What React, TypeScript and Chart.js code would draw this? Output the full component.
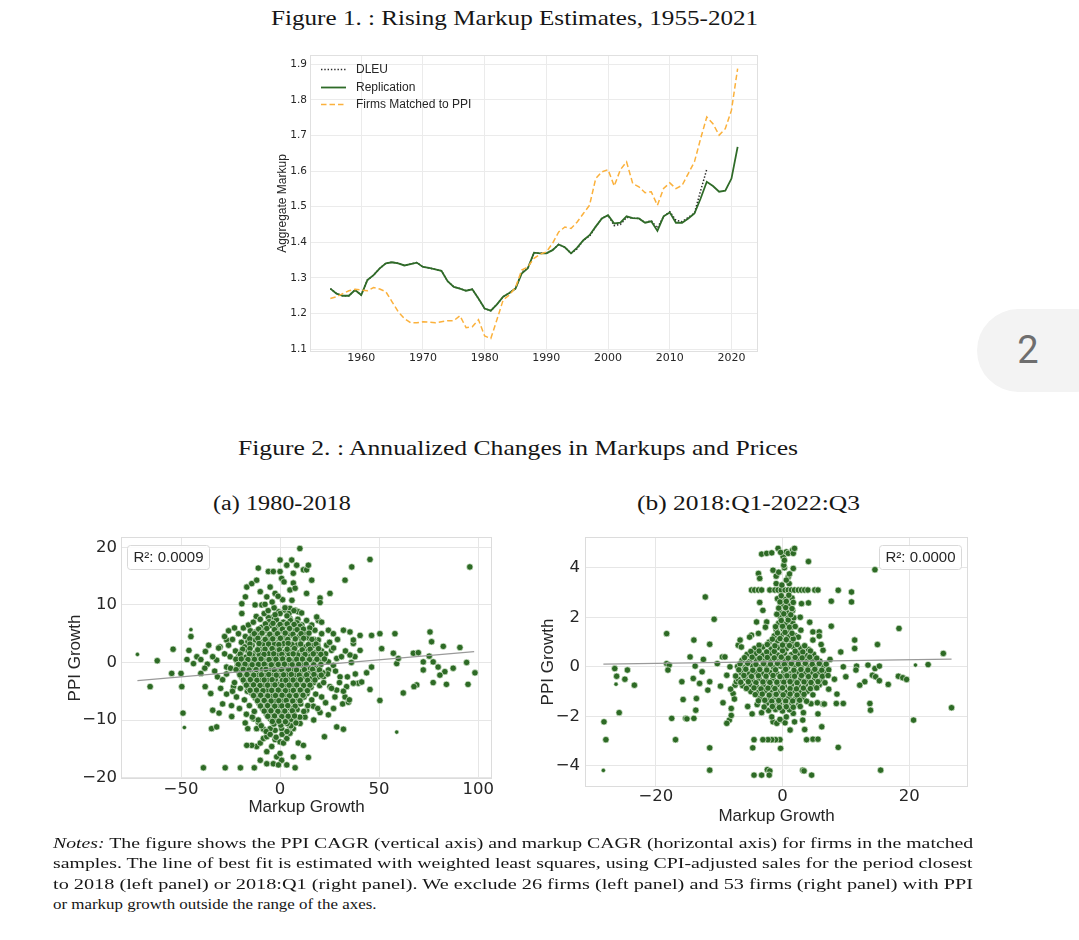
import React, { useEffect, useLayoutEffect, useRef, useState } from "react";
import { Chart, registerables } from "chart.js";
Chart.register(...registerables);

const SANS = "'Liberation Sans', Arial, Helvetica, sans-serif";
const TICKF = "'DejaVu Sans', sans-serif";
const SERIF = "'Liberation Serif', 'Times New Roman', serif";
Chart.defaults.font.family = SANS;

// ---------------- Figure 1 data ----------------
const years = [1955,1956,1957,1958,1959,1960,1961,1962,1963,1964,1965,1966,1967,1968,1969,1970,1971,1972,1973,1974,1975,1976,1977,1978,1979,1980,1981,1982,1983,1984,1985,1986,1987,1988,1989,1990,1991,1992,1993,1994,1995,1996,1997,1998,1999,2000,2001,2002,2003,2004,2005,2006,2007,2008,2009,2010,2011,2012,2013,2014,2015,2016,2017,2018,2019,2020,2021];
const dleu = [1.270,1.256,1.250,1.250,1.266,1.252,1.294,1.308,1.327,1.341,1.344,1.341,1.335,1.339,1.343,1.331,1.328,1.324,1.320,1.291,1.275,1.270,1.264,1.268,1.242,1.214,1.208,1.226,1.247,1.258,1.270,1.316,1.327,1.371,1.369,1.369,1.378,1.394,1.386,1.369,1.382,1.406,1.417,1.444,1.467,1.476,1.447,1.450,1.470,1.468,1.467,1.455,1.461,1.440,1.473,1.486,1.462,1.458,1.470,1.482,1.545,1.605];
const replication = [1.270,1.256,1.250,1.250,1.266,1.252,1.294,1.308,1.327,1.341,1.344,1.341,1.335,1.339,1.343,1.331,1.328,1.324,1.320,1.291,1.275,1.270,1.264,1.268,1.242,1.214,1.208,1.226,1.247,1.258,1.270,1.312,1.327,1.371,1.369,1.369,1.378,1.394,1.386,1.369,1.385,1.406,1.420,1.444,1.467,1.476,1.453,1.455,1.473,1.468,1.467,1.455,1.459,1.432,1.473,1.484,1.455,1.455,1.467,1.481,1.523,1.570,1.558,1.542,1.545,1.579,1.668];
const matchedPPI = [1.242,1.247,1.256,1.264,1.268,1.266,1.264,1.273,1.269,1.261,1.233,1.205,1.186,1.174,1.174,1.177,1.176,1.174,1.177,1.180,1.180,1.194,1.160,1.163,1.183,1.137,1.130,1.183,1.238,1.252,1.273,1.322,1.331,1.355,1.367,1.373,1.397,1.429,1.443,1.439,1.457,1.481,1.504,1.579,1.598,1.604,1.558,1.604,1.626,1.565,1.556,1.539,1.542,1.504,1.551,1.567,1.551,1.560,1.593,1.626,1.691,1.752,1.733,1.701,1.719,1.771,1.888];
const fig1XTicks = [1960, 1970, 1980, 1990, 2000, 2010, 2020];
const fig1YTicks = [1.1, 1.2, 1.3, 1.4, 1.5, 1.6, 1.7, 1.8, 1.9];

// ---------------- Figure 2 (a) data: [markup growth, PPI growth] ----------------
const aOutliers = [[-65.6,-4.2],[-62,0.3],[-54,2.3],[-54.7,-1.9],[-50,-1.9],[-49.6,-4.2],[-49,-8.8],[-46,2.1],[-45,4.5],[-47,0.5],[-42,1],[-43.7,-0.2],[-40,-1.9],[-37.7,1.9],[-37.8,-4.2],[-34,-8.3],[-36.7,-0.3],[-35,-5.4],[-32,0.4],[-31.6,-2.5],[-30.3,2.7],[-29,-7.2],[-30.8,-8.8],[-34.6,-11.5],[-32,-11.2],[-38.7,-18.3],[-27.7,-18.3],[-20,-18.3],[-13,-18.3],[-27,3.9],[-25.2,1],[-27,-0.8],[-23.5,-4.2],[-24.4,-9.4],
[-19.3,8.5],[-19.3,10.2],[-17.5,11.4],[-16.8,13.1],[-14.3,13.7],[-11,16.4],[-11.8,14.3],[-10,12.3],[-12.6,10],[-9.2,10],[-6.7,11.4],[-7.6,10.1],[-5.9,15.8],[-3.4,15.8],[-5,13.1],[-2.5,12],[0,17.8],[0,15.8],[0.8,14.6],[2,14],[3.4,16.9],[5.9,17.8],[6.7,15.5],[5,12.6],[6.7,13.8],[7.6,12.9],[8.4,16.9],[10,19.8],[11.8,16.1],[13.4,16.1],[14.3,16.9],[13.4,12],[16,14.3],[20.2,11.2],[25.2,12],[32.8,14.3],[36.2,16.6],[45.4,17.9],[95.8,16.6],
[1.3,10.9],[2.5,9.1],[5,9.4],[7.6,9.1],[9.2,8.8],[10.9,8.6],[-0.8,8.8],[-3.4,7.9],[-5.9,7.8],[5,7.6],
[24.4,5.6],[26.9,5],[32,5.6],[35.3,5.3],[40.4,4.7],[46.2,4.7],[50.4,5],[58,5],[75.7,5.3],[51.3,2.4],[40.4,2.1],[37,3.3],[37.8,1],[37,3.9],[35.3,1.3],[57.2,1.6],[58.9,-0.2],[59.7,0.7],[67.3,1.6],[69.8,1.7],[76.5,3.6],[82.4,2.8],[90.8,2.6],[72.3,0.1],[75.3,1.1],[77.3,0.1],[79.8,-0.8],[83.2,-1.6],[87.4,-1],[94.2,0],[98.4,-1.8],[80.7,-2.2],[72.3,-1.3],[77.3,-3.5],[84,-3.8],[94.9,-3.8],[69,-3.9],[67.6,-4.2],[62.2,-5.3],[50.4,-6.6],[45.4,-4.7],[43.7,-1.8],[46.2,-0.8],[39.5,-3.6],[37,-3.6],[41.2,-3.4],[33.6,-4.2],[32.8,-6],[31.6,-7.2],[34.5,-6.9],[28.6,-4.8],[25.2,-4.2],[27.7,-6],[28.6,-11.2],[32,-11.6],[22.4,-12.9],[20.2,-8.7],[24.4,-9.1],[30.3,-2.5],[26.9,-0.5],[24.4,0.1],[21.9,0.4],[28.6,0.7],[24.4,-1.3],[21.9,-2.5],[26,2.1],[23.5,3],[19.3,3.9],[21,5],[17.6,5.6],[19.3,7.3],[21,7],[18.5,7.9],[20.2,10.4],[13.4,7.3],[16,6.5],
[-6.7,-17.6],[-3.4,-17.6],[-1.7,-16.4],[0,-15.8],[0.8,-17],[3.4,-17.8],[7.6,-18.3],[-0.8,-17.8],[-10,-17],[-11.8,-14.6],[-14.3,-14.4],[-16.8,-14.4],[-10,-14],[-8.4,-13.2],[-6.7,-15.5],[-4.2,-14.6],[-2.5,-13.4],[0,-13.8],[1.7,-14],[3.4,-13.2],[6.7,-16.4],[9.2,-14],[11.8,-14.4],[14.3,-16.5],[10.1,-10.6],[6.7,-11.5],[5,-11.2],[0.8,-11.5],[-2.5,-11.8],[-5,-11.5],[-8.4,-11.6],[-11.8,-11.5],[-16.3,-11.5],[-17.6,-10.5],[-13.4,-9.8],[-10.9,-10.4],[-6.7,-12.9],[5,-12.3],[7.6,-9.5],[13.4,-8.3],[12.6,-9.5],[16.8,-7.6]];
const aHalo = [[-33,-1.5],[-31,2.5],[-29,-3],[-28,1.5],[-27,-5.5],[-26,3],[-25,-1],[-24.5,-7.5],[-24,4],[-23,-3.5],[-22.5,2],[-22,-6],[-21.5,-0.5],[-21,5],[-20.5,-8],[-20,-4.5],[-19.5,3.5],[-19,-2.5],[-18.5,6],[-18,-6.5],[-17.5,4.5],[-17,-9],[-16.5,-5],[-16,6.5],[-15.5,-7.5],[-15,5.5],[-14,-9.5],[-13.5,7],[-13,-8.5],[-12,8],[-11,-10],[-10,7.5],[-9.5,-11],[-8,8.5],[-7,-12],[-6,9],[-5,-12.5],[-3,9.5],[-2,-13],[0,8.5],[1,-12.5],[2.5,9.5],[3.5,-12],[4.5,8.5],[5.5,-11],[7,9],[8,-10.5],[9,7.5],[10,-9.5],[11,6.5],[12,-8.5],[13,5],[14,-7.5],[15,6],[16,-6.5],[17,4],[18,-5.5],[19,3],[20,-4],[21,2],[22,-3.5],[23,1.5],[24,-2],[25,3.5],[26,-4.5],[27,2.5],[28,-1.5],[29,4],[30,-3.5],[31,1],[32,-5],[33,2],[34,-2.5],[35,-6.5],[36,0],[38,-2],[23,-7],[19,-8],[17,-10],[21,-6],[27,-8],[-24,-5],[-27,-2],[-30,-4.5],[-34,1],[-36,3],[-38,-1],[-40,0.5],[-26,5.5],[-23,6],[-28,4.5]];
const aCore = [[-5.5,7.1],[-1.8,7.4],[1.7,7],[5.2,7.3],[8.5,6.9],
[-9.3,6.1],[-4.6,6.4],[-0.8,6.2],[2.8,6.5],[6.4,6.1],[10.2,6.3],
[-12.2,5.3],[-7.6,5.6],[-3.2,5.2],[0.4,5.5],[4.1,5.3],[7.8,5.6],[12.3,5.2],
[-14.1,4.5],[-10.3,4.7],[-6.2,4.4],[-2.1,4.6],[1.6,4.4],[5.4,4.7],[9.6,4.5],[13.8,4.3],
[-16.2,3.6],[-12.4,3.9],[-8.4,3.6],[-4.7,3.8],[-0.9,3.5],[3.1,3.8],[7.2,3.6],[11.1,3.9],[15.3,3.5],
[-17.8,2.7],[-14.1,3],[-10.4,2.7],[-6.7,2.9],[-2.9,2.6],[0.6,2.9],[4.6,2.7],[8.3,3],[12.6,2.7],[16.4,2.9],
[-19.6,1.8],[-16.2,2],[-12.3,1.7],[-8.7,2],[-5.1,1.8],[-1.4,2.1],[2.2,1.8],[6.1,2],[9.8,1.7],[14.2,2],[18.1,1.8],
[-20.8,1.1],[-17.3,0.9],[-13.9,1.2],[-10.6,0.9],[-7.2,1.1],[-3.4,0.8],[0.2,1.1],[3.7,0.9],[7.4,1.2],[11.6,0.9],[15.4,1.1],[19.3,0.9],
[-21.7,0.2],[-18.4,-0.1],[-14.8,0.2],[-11.6,0],[-8.1,0.3],[-4.4,0],[-1.1,0.2],[2.6,-0.1],[6.2,0.2],[9.4,0],[13.1,0.3],[16.8,0],[20.7,0.1],
[-19.8,-0.8],[-16.4,-0.6],[-12.9,-0.9],[-9.6,-0.7],[-5.8,-1],[-2.6,-0.7],[1.1,-0.9],[4.4,-0.6],[8.2,-0.9],[11.7,-0.7],[15.2,-1],[18.9,-0.8],
[-20.6,-1.7],[-17.3,-1.5],[-13.8,-1.8],[-10.4,-1.6],[-7.1,-1.9],[-3.6,-1.6],[0.1,-1.8],[3.4,-1.5],[7.1,-1.8],[10.6,-1.6],[14.1,-1.9],[17.8,-1.6],[21.6,-1.8],
[-19.3,-2.6],[-15.8,-2.4],[-12.6,-2.7],[-9.1,-2.5],[-5.4,-2.8],[-2.1,-2.5],[1.6,-2.7],[5.1,-2.4],[8.6,-2.7],[12.1,-2.5],[15.7,-2.8],[19.2,-2.5],
[-17.9,-3.4],[-14.4,-3.7],[-11.1,-3.4],[-7.6,-3.6],[-4.1,-3.3],[-0.6,-3.6],[2.9,-3.4],[6.6,-3.7],[10.1,-3.4],[13.4,-3.6],[16.9,-3.5],
[-16.1,-4.4],[-12.6,-4.2],[-9.2,-4.5],[-5.6,-4.3],[-1.9,-4.6],[1.4,-4.3],[5.1,-4.5],[8.4,-4.2],[12.1,-4.6],[15.6,-4.3],
[-14.3,-5.3],[-10.9,-5.1],[-7.4,-5.4],[-4.1,-5.2],[-0.4,-5.5],[3.1,-5.2],[6.4,-5.4],[9.9,-5.1],[13.6,-5.4],
[-12.4,-6.2],[-8.9,-6],[-5.6,-6.3],[-2.2,-6.1],[1.6,-6.4],[4.9,-6.1],[8.6,-6.3],[12.1,-6],
[-10.6,-7.1],[-7.1,-6.9],[-3.4,-7.2],[0.1,-7],[3.6,-7.3],[6.9,-7],[10.4,-7.2],
[-8.8,-8],[-5.4,-8.2],[-2.1,-7.9],[1.4,-8.1],[4.9,-7.9],[8.6,-8.2],
[-6.9,-8.9],[-3.6,-9.1],[0.1,-8.8],[3.4,-9],[6.9,-8.9],
[-4.9,-9.8],[-1.6,-10],[2.1,-9.7],[5.4,-9.9],
[-3.1,-10.7],[0.4,-10.9],[3.6,-10.6],
[-8.5,3.2],[-3,3.2],[1.8,3.3],[6,3.1],[-10.5,1.4],[-5.8,1.5],[-1.6,1.4],[4.5,1.5],[8.9,1.3],[-12.8,-0.4],[-6.7,-0.3],[-2.9,-0.3],[0.7,-0.4],[4.3,-0.3],[10.8,-0.2],[-9,-1.2],[-4.8,-1.1],[-1,-1.3],[2.4,-1.2],[6,-1.2],[-11.2,-2.1],[-7.4,-2.2],[-3.6,-2.1],[0,-2.3],[3.7,-2.1],[7.5,-2.2],[-9.6,-3],[-5.9,-3.1],[-2.4,-3],[1.2,-3.1],[4.8,-3],[8.4,-3.1],[-8.1,-3.9],[-4.3,-4],[-0.8,-3.9],[2.9,-4],[6.6,-3.9],[-6.2,-4.8],[-2.7,-4.9],[0.9,-4.8],[4.5,-4.9],[-4,-5.8],[-0.6,-5.7],[2.9,-5.8],[-2.2,-6.7],[1.4,-6.6],[-0.4,-7.5],[-6,0.5],[3.2,0.4],[-0.3,4.1],[0.8,5.9],[-2.5,8.3],[3.5,8.1],[-4,10.5],[6,10.8],[-1,11.5]];
const aCore2 = [[-7.4,6.7],[-3.6,6.8],[0,6.6],[3.6,6.7],[7.1,6.6],
[-10.8,5.8],[-6.7,5.9],[-2.8,5.7],[1.2,5.8],[4.8,5.9],[8.6,5.7],[11.8,5.8],
[-13,5],[-9.1,5.1],[-5.2,4.9],[-1.3,5],[2.6,5.1],[6.5,4.9],[10.6,5],[14.6,5.1],
[-15.3,4.1],[-11.2,4.2],[-7.5,4],[-3.7,4.1],[0.2,4.2],[3.9,4],[7.7,4.1],[11.9,4.2],[16.1,4],
[-15.2,3.2],[-10.6,3.3],[-5.8,3.2],[-0.6,3.1],[4.1,3.3],[10.4,3.2],[14.3,3.1],[18.2,3.2],
[-18.9,2.3],[-15.2,2.4],[-11.3,2.2],[-7.6,2.3],[-4,2.4],[-0.3,2.2],[3.6,2.3],[7.3,2.4],[11.2,2.2],[15.2,2.3],[19.4,2.4],
[-20.1,1.45],[-15.4,1.5],[-8.1,1.4],[-3.2,1.5],[0.9,1.4],[6.6,1.5],[12.6,1.4],[16.8,1.5],[20.6,1.4],
[-22.3,0.55],[-19.6,0.6],[-16.2,0.5],[-12.9,0.55],[-9.6,0.6],[-5.5,0.5],[-2.1,0.55],[1.3,0.6],[4.6,0.5],[8.4,0.55],[11.3,0.6],[14.9,0.5],[18.6,0.55],[22.4,0.6],
[-21.1,-0.35],[-17.7,-0.3],[-14.1,-0.4],[-10.9,-0.35],[-8,-0.3],[-4.4,-0.4],[-0.9,-0.35],[2.2,-0.3],[6.1,-0.4],[9.4,-0.35],[13.2,-0.3],[17,-0.4],[20.6,-0.35],
[-22.2,-1.25],[-18.6,-1.2],[-15.6,-1.3],[-12.1,-1.25],[-7.1,-1.2],[-2.9,-1.3],[0.8,-1.25],[4.3,-1.2],[8.3,-1.3],[12.3,-1.25],[16.4,-1.2],[19.9,-1.3],
[-20.3,-2.15],[-16.7,-2.1],[-13.3,-2.2],[-9.4,-2.15],[-5.7,-2.1],[-1.9,-2.2],[1.8,-2.15],[5.7,-2.1],[9.7,-2.2],[13.4,-2.15],[17.1,-2.1],[20.8,-2.2],
[-18.6,-3.05],[-15,-3],[-11.7,-3.1],[-8,-3.05],[-4,-3],[2.9,-3.1],[6.6,-3.05],[10.3,-3],[13.9,-3.1],[17.6,-3.05],
[-17,-3.95],[-13.4,-3.9],[-10.1,-4],[-6.3,-3.95],[-2.6,-3.9],[0.9,-4],[4.6,-3.95],[8.4,-3.9],[11.9,-4],[15.1,-3.95],
[-15.1,-4.85],[-11.9,-4.8],[-8.6,-4.9],[-4.2,-4.85],[-0.9,-4.8],[2.7,-4.9],[6.7,-4.85],[10.2,-4.8],[13.8,-4.9],
[-13.4,-5.75],[-9.8,-5.7],[-6.2,-5.8],[-2.3,-5.75],[1,-5.7],[4.7,-5.8],[8.1,-5.75],[11.6,-5.7],
[-11.4,-6.65],[-8,-6.6],[-4.5,-6.7],[-0.6,-6.65],[3.1,-6.6],[6.4,-6.7],[10.1,-6.65],
[-9.9,-7.55],[-6.3,-7.5],[-2.7,-7.6],[0.9,-7.55],[3.9,-7.5],[7.6,-7.6],
[-8,-8.45],[-4.6,-8.4],[-1.1,-8.5],[2.4,-8.45],[6.2,-8.4],
[-6.2,-9.35],[-2.8,-9.3],[0.9,-9.4],[4.1,-9.35],[7.3,-9.3],
[-3.9,-10.25],[-0.6,-10.2],[2.7,-10.3]];
const aSmall = [[-72,1.4],[-48.3,-11.3],[58.9,-12.1],[-45,5.7]];
const aFit = [[-72,-3.15],[98,1.88]];
const aTicksX = [-50, 0, 50, 100];
const aTicksY = [-20, -10, 0, 10, 20];
const aR2 = "R\u00b2: 0.0009";

// ---------------- Figure 2 (b) data ----------------
const bOutliers = [[-28.2,-2.22],[-27.9,-2.94],[-26.5,-0.07],[-26.2,-0.38],[-24.9,-0.5],[-24.5,-0.13],[-25.8,-1.85],[-23.4,-0.74],[-18.3,1.34],[-18.3,0.13],[-17.9,0.07],[-18.1,-0.13],[-17.5,-2.08],[-16.9,-2.94],[-15.9,-0.6],[-15.7,-1.32],[-15.3,-2.08],[-15.1,-2.1],[-14,-2.08],[-14.1,-0.47],[-14,1.08],[-14.6,0.4],[-13.8,0.03],[-13.6,-1.28],[-13.7,-1.75],[-13.1,-0.67],[-12.5,0.3],[-12.2,2.82],[-12.7,-0.2],[-11.5,0.91],[-11.5,-0.6],[-11.8,-0.94],[-11.5,-3.27],[-11.5,-4.17],[-10.8,1.92],[-10.3,0.13],[-9.8,-0.78],[-9.5,0.4],[-9.4,-1.45],[-8.8,-0.34],[-8.4,-2.15],[-8.8,-2.28],[-8.3,0],[-8.1,-1.96],[-8.1,-1.68],[-7.8,-1.08],[-7.5,-0.74],[-7.3,-0.6],[-7,0.87],[-6.7,1.08],
[-4.9,1.28],[-4.1,1.81],[-3.8,3.77],[-3.6,3.57],[-3.3,4.55],[-2.5,4.58],[-1.7,4.6],[-3.6,2.6],[-3.1,2.28],[-2.5,1.81],[-1.5,3.9],[-1,3.66],[-0.7,4.78],[0.1,4.44],[0.6,4.64],[0.9,4.58],[1.6,4.71],[1.7,4.58],[1.9,4.78],[0.3,4],[1.7,3.97],[0.9,3.63],[-1,3.36],[1.05,3.36],[4.1,4.25],
[-4.9,3.1],[-4.4,3.1],[-3.8,3.1],[-3.3,3.1],[-2,3.1],[-1.2,3.1],[-0.7,3.1],[-0.2,3.1],[0.4,3.1],[0.9,3.1],[1.4,3.1],[1.9,3.1],[2.5,3.1],[3,3.1],[3.5,3.1],[4,3.1],[5.1,3.1],[5.6,3.1],
[8.8,3.09],[10.9,3.02],[10.9,2.62],[7.7,2.65],[4.1,2.58],[3,2.55],[11.4,1.08],[7.7,1.64],[4.8,1.41],[5.8,1.41],[5.8,1.24],[4.8,1.08],[2.9,1.48],[6.4,0.67],[14.6,3.92],[18.4,1.55],[15,0.9],[11.4,0.74],[25.4,0.54],[23,0.09],[13.5,0.07],[14.6,-0.07],[15.3,0.03],[14.2,-0.34],[14.7,-0.4],[15.3,-0.56],[16.7,-0.71],[18.3,-0.38],[19,-0.44],[19.6,-0.51],[13,-0.6],[12.2,-0.74],[10,-0.4],[9.6,0],[11.7,0.03],[11.6,-0.13],[13.8,-1.48],[13.9,-1.75],[9.6,-1.48],[8.5,-1.48],[8.8,-3.25],[26.7,-1.65],[20.7,-2.15],[15.5,-4.17],[6.4,-1.5],[6.2,-2.42],[4.8,-2.92],[5.6,-2.92],[3.8,-2.94],[3.5,-2.53],[3.2,-2.15],[3.2,-4.17],[3.4,-4.2],[4.6,-4.37],[1.2,-2.55],[-0.3,-3.29],[-0.4,-2.94],[-1.1,-2.94],[-1.7,-2.94],[-2.3,-2.94],[-3.1,-2.94],[-4.5,-2.94],[-4.7,-3.27],[-2.4,-4.15],[-2,-4.2],[-2.1,-4.37],[-3.3,-4.37],[-4.5,-4.37],[-0.2,-2.15],[0.4,-2.26],[-1.5,-2.22],[-0.9,-2.28],[-0.4,-2.12],[-1.7,-2.02],[0.6,-2.02],[1.7,-1.88],[1.9,-2.22]];
const bCore = [[-2.1,1],[-0.8,1.05],[0.3,0.95],[1.5,1.02],
[-4.4,0.74],[-3.1,0.8],[-1.8,0.72],[-0.6,0.78],[0.6,0.73],[1.7,0.8],[2.9,0.75],[4.1,0.7],
[-5.6,0.5],[-4.3,0.53],[-3.1,0.47],[-2,0.52],[-0.8,0.48],[0.3,0.54],[1.4,0.49],[2.6,0.52],[3.7,0.46],[4.9,0.51],
[-6.4,0.26],[-5.2,0.22],[-4.1,0.28],[-2.9,0.23],[-1.8,0.27],[-0.7,0.22],[0.4,0.28],[1.5,0.24],[2.6,0.27],[3.7,0.22],[4.8,0.26],[5.9,0.23],
[-7.1,0.02],[-5.9,-0.03],[-4.7,0.03],[-3.6,-0.02],[-2.5,0.02],[-1.4,-0.03],[-0.3,0.03],[0.8,-0.02],[1.9,0.02],[3,-0.03],[4.1,0.02],[5.2,-0.02],[6.4,0.03],
[-6.5,-0.24],[-5.3,-0.28],[-4.2,-0.22],[-3.1,-0.27],[-2,-0.23],[-0.9,-0.27],[0.2,-0.22],[1.3,-0.28],[2.4,-0.23],[3.5,-0.27],[4.6,-0.22],[5.7,-0.26],[6.8,-0.24],
[-7,-0.5],[-5.9,-0.46],[-4.8,-0.52],[-3.7,-0.47],[-2.6,-0.53],[-1.5,-0.48],[-0.4,-0.52],[0.7,-0.47],[1.8,-0.53],[2.9,-0.48],[4,-0.51],[5.1,-0.47],[6.2,-0.52],
[-6.3,-0.76],[-5.2,-0.72],[-4.1,-0.78],[-3,-0.73],[-1.9,-0.77],[-0.8,-0.72],[0.3,-0.78],[1.4,-0.73],[2.5,-0.77],[3.6,-0.72],[4.7,-0.76],[5.8,-0.73],
[-5,-1],[-3.8,-1.03],[-2.7,-0.97],[-1.6,-1.02],[-0.5,-0.98],[0.6,-1.03],[1.7,-0.98],[2.8,-1.02],[3.9,-0.99],
[-3.5,-1.24],[-2.3,-1.28],[-1.2,-1.22],[-0.1,-1.27],[1,-1.23],[2.1,-1.27],[3.2,-1.24],
[-4,-1.52],[-2.5,-1.47],[-1.5,-1.53],[-0.5,-1.48],[0.5,-1.52],[1.5,-1.47],[2.6,-1.51],[4.5,-1.49],[-5.5,-1.6],[5.5,-1.45],[6.6,-1.5],
[-2.2,-1.76],[-1.1,-1.72],[0,-1.78],[1.1,-1.73],
[-1.3,0.62],[0,0.65],[1,0.38],[-0.2,0.12],[0.9,0.12],[-1.1,-0.12],[0,-0.38],[1.1,-0.38],[-0.9,-0.62],[0.2,-0.62],[1.2,-0.88],[-0.1,-0.88],[-1.2,-1.12],[0.5,-1.38],
[-1.3,1.25],[-0.2,1.27],[0.9,1.22],[2,1.26],[-1,1.5],[0.1,1.53],[1.2,1.48],[-0.6,1.76],[0.5,1.73],[1.6,1.78],[-0.3,2],[0.8,2.03],[1.8,1.98],[-0.5,2.25],[0.6,2.22],[1.6,2.27],[-0.2,2.5],[0.9,2.47],[-0.8,2.75],[0.4,2.72],[1.5,2.78],[-0.1,3.3],[0.6,3.5],[-0.6,3.82],[0.2,4.1],[-0.3,4.62],[0.3,4.3],[1.1,3.75],
[7.5,0.3],[8.2,-0.5],[7.3,-0.9],[9.2,0.6],[-8.2,-0.9],[-9.1,0.4],[-7.6,-1.3],[8.6,-1.1],[6.1,0.9],[-6.5,0.8],[-5.2,1.2],[5.6,-1.9],[-4.8,-1.9],[3.3,-1.85],[-3.3,-1.85],[2.5,1.2],[-3.8,1.35],[-2.7,1.6],[2.8,2],[4.3,1.8]];
const bCore2 = [[-3.7,0.87],[-2.4,0.9],[-1.2,0.85],[0,0.88],[1.1,0.86],[2.3,0.9],[3.5,0.85],
[-5,0.62],[-3.7,0.64],[-2.5,0.6],[2,0.63],[3.2,0.6],[4.4,0.64],
[-6,0.37],[-4.8,0.39],[-3.6,0.35],[-2.4,0.38],[-1.3,0.36],[-0.2,0.39],[0.9,0.35],[2,0.38],[3.1,0.36],[4.3,0.39],[5.4,0.35],
[-6.7,0.12],[-5.5,0.14],[-4.2,0.1],[-3,0.13],[-1.9,0.11],[-0.8,0.14],[0.3,0.1],[1.4,0.13],[2.5,0.11],[3.6,0.14],[4.7,0.1],[5.8,0.13],[6.9,0.11],
[-6.9,-0.12],[-5.8,-0.1],[-4.7,-0.14],[-3.6,-0.11],[-2.5,-0.13],[0.5,-0.1],[1.8,-0.14],[2.9,-0.11],[4,-0.13],[5.1,-0.1],[6.2,-0.14],[7.3,-0.12],
[-7.4,-0.37],[-6.1,-0.35],[-4.9,-0.39],[-3.8,-0.36],[-2.6,-0.38],[-1.5,-0.35],[-0.4,-0.39],[0.7,-0.36],[1.9,-0.38],[3,-0.35],[4.1,-0.39],[5.2,-0.36],[6.3,-0.38],[7.2,-0.35],
[-6.6,-0.62],[-5.4,-0.6],[-4.2,-0.64],[-3.1,-0.61],[-2,-0.63],[1.2,-0.6],[2.3,-0.64],[3.4,-0.61],[4.5,-0.63],[5.6,-0.6],[6.7,-0.64],
[-5.7,-0.87],[-4.5,-0.85],[-3.4,-0.89],[-2.3,-0.86],[-1.2,-0.88],[0,-0.85],[2.2,-0.89],[3.3,-0.86],[4.4,-0.88],[5.4,-0.85],
[-4.3,-1.12],[-3.2,-1.1],[-2.1,-1.14],[-1,-1.11],[0.1,-1.13],[1.2,-1.1],[2.3,-1.14],[3.4,-1.11],[4.8,-1.13],
[-3.8,-1.37],[-2.8,-1.35],[-1.7,-1.39],[-0.6,-1.36],[1.6,-1.38],[2.7,-1.35],[3.8,-1.39],
[-2.9,-1.62],[-1.6,-1.6],[-0.5,-1.64],[0.6,-1.61],[1.7,-1.63],[2.8,-1.6],
[-1.6,1.12],[-0.4,1.14],[0.6,1.1],[1.7,1.13],[-0.8,1.37],[0.4,1.39],[1.5,1.35],[-1.1,1.62],[0,1.64],[1.1,1.6],[2,1.63],[-0.2,1.87],[0.9,1.89],[-0.9,2.12],[0.2,2.14],[1.3,2.1],[-0.6,2.37],[0.5,2.39],[1.5,2.35],[-0.4,2.62],[0.6,2.64],[1.7,2.6],[-0.2,2.87],[1,2.89]];
const bSmall = [[21,0.07],[-26.3,-0.7],[-28.3,-4.18]];
const bFit = [[-28.3,0.11],[26.7,0.31]];
const bTicksX = [-20, 0, 20];
const bTicksY = [-4, -2, 0, 2, 4];
const bR2 = "R\u00b2: 0.0000";

// ---------------- helpers ----------------
const toXY = (pairs: number[][]) => pairs.map(([x, y]) => ({ x, y }));
const minusFmt = (v: number) => (v < 0 ? "\u2212" + Math.abs(v) : String(v));

const framePlugin = {
  id: "frame",
  beforeDatasetsDraw(chart: any, _a: any, opts: any) {
    const { ctx, chartArea } = chart;
    const l = Math.round(chartArea.left) + 0.5, t = Math.round(chartArea.top) + 0.5;
    const r = Math.round(chartArea.right) - 0.5, b = Math.round(chartArea.bottom) - 0.5;
    ctx.save();
    ctx.strokeStyle = (opts && opts.color) || "#dcdcdc";
    ctx.lineWidth = 1;
    ctx.strokeRect(l, t, r - l, b - t);
    ctx.restore();
  },
};

const insideLegend = {
  id: "insideLegend",
  afterDatasetsDraw(chart: any) {
    const { ctx, chartArea } = chart;
    ctx.save();
    chart.data.datasets.forEach((ds: any, i: number) => {
      const y = Math.round(chartArea.top + 14 + i * 17.6) + 0.5;
      const x0 = chartArea.left + 11;
      ctx.beginPath();
      ctx.setLineDash(ds.borderDash || []);
      ctx.strokeStyle = ds.borderColor;
      ctx.lineWidth = ds.borderWidth;
      ctx.moveTo(x0, y);
      ctx.lineTo(x0 + 25, y);
      ctx.stroke();
      ctx.setLineDash([]);
      ctx.fillStyle = "#262626";
      ctx.font = `12px ${SANS}`;
      ctx.textBaseline = "middle";
      ctx.fillText(ds.label, x0 + 35, y);
    });
    ctx.restore();
  },
};

const r2Plugin = {
  id: "r2box",
  afterDatasetsDraw(chart: any, _a: any, opts: any) {
    if (!opts || !opts.text) return;
    const { ctx, chartArea } = chart;
    ctx.save();
    ctx.font = `15px ${SANS}`;
    const tw = ctx.measureText(opts.text).width;
    const w = Math.round(tw + 12), h = 24;
    const x = Math.round(opts.side === "left" ? chartArea.left + 6 : chartArea.right - 7 - w) + 0.5;
    const y = Math.round(chartArea.top + 8) + 0.5;
    ctx.beginPath();
    if ((ctx as any).roundRect) (ctx as any).roundRect(x, y, w, h, 3);
    else ctx.rect(x, y, w, h);
    ctx.fillStyle = "rgba(255,255,255,0.85)";
    ctx.fill();
    ctx.strokeStyle = "#d9d9d9";
    ctx.lineWidth = 1;
    ctx.stroke();
    ctx.fillStyle = "#262626";
    ctx.textBaseline = "middle";
    ctx.fillText(opts.text, x + 6, y + h / 2 + 0.5);
    ctx.restore();
  },
};

function ChartBox({ left, top, width, height, make }: any) {
  const ref = useRef<HTMLCanvasElement>(null);
  useEffect(() => {
    const chart = new Chart(ref.current as HTMLCanvasElement, make());
    return () => chart.destroy();
  }, []);
  return (
    <canvas
      ref={ref}
      width={width}
      height={height}
      style={{ position: "absolute", left, top, width, height }}
    />
  );
}

function FitText({ left, width, baseline, size, children, color = "#161616" }: any) {
  const ref = useRef<HTMLSpanElement>(null);
  const [s, setS] = useState(1);
  useLayoutEffect(() => {
    const measure = () => {
      const el = ref.current;
      if (!el) return;
      const w = el.offsetWidth;
      if (w > 0) setS(width / w);
    };
    measure();
    const f: any = (document as any).fonts;
    if (f && f.ready) f.ready.then(measure);
  }, [width]);
  return (
    <div
      style={{
        position: "absolute",
        left,
        top: baseline - 0.8375 * size,
        whiteSpace: "nowrap",
        fontFamily: SERIF,
        fontSize: size,
        lineHeight: `${size}px`,
        color,
      }}
    >
      <span
        ref={ref}
        style={{ display: "inline-block", transform: `scaleX(${s})`, transformOrigin: "left top" }}
      >
        {children}
      </span>
    </div>
  );
}

// ---------------- chart configs ----------------
const makeFig1 = () => ({
  type: "line",
  data: {
    datasets: [
      {
        label: "DLEU",
        data: dleu.map((y, i) => ({ x: years[i], y })),
        borderColor: "#2a2a2a",
        borderWidth: 1.5,
        borderDash: [1.4, 1.9],
        pointRadius: 0,
        order: 3,
      },
      {
        label: "Replication",
        data: replication.map((y, i) => ({ x: years[i], y })),
        borderColor: "#2f6b28",
        borderWidth: 1.8,
        pointRadius: 0,
        order: 2,
      },
      {
        label: "Firms Matched to PPI",
        data: matchedPPI.map((y, i) => ({ x: years[i], y })),
        borderColor: "#fbb13c",
        borderWidth: 1.5,
        borderDash: [5.5, 3],
        pointRadius: 0,
        order: 1,
      },
    ],
  },
  options: {
    animation: false,
    responsive: false,
    devicePixelRatio: 1,
    layout: { padding: { top: 12, right: 12, left: 0, bottom: 0 } },
    plugins: { legend: { display: false }, tooltip: { enabled: false }, frame: { color: "#e0e0e0" } },
    scales: {
      x: {
        type: "linear",
        min: 1951.7,
        max: 2024.3,
        afterBuildTicks: (s: any) => { s.ticks = fig1XTicks.map((v) => ({ value: v })); },
        afterFit: (s: any) => { s.height = 23; },
        grid: { color: "#ebebeb", drawTicks: false },
        border: { display: false },
        ticks: { padding: 0, font: { family: TICKF, size: 11 }, color: "#262626", callback: (v: any) => String(v), maxRotation: 0 },
      },
      y: {
        type: "linear",
        min: 1.092,
        max: 1.926,
        afterBuildTicks: (s: any) => { s.ticks = fig1YTicks.map((v) => ({ value: v })); },
        afterFit: (s: any) => { s.width = 40; },
        grid: { color: "#ebebeb", drawTicks: false },
        border: { display: false },
        ticks: { padding: 3, font: { family: TICKF, size: 10.5 }, color: "#262626", callback: (v: any) => Number(v).toFixed(1) },
        title: { display: true, text: "Aggregate Markup", font: { family: SANS, size: 12 }, color: "#262626", padding: { top: 5, bottom: 0 } },
      },
    },
  },
  plugins: [framePlugin, insideLegend],
});

const scatterConfig = (p: any) => ({
  type: "scatter",
  data: {
    datasets: [
      {
        label: "fit",
        data: toXY(p.fit),
        showLine: true,
        borderColor: "#9a9a9a",
        borderWidth: 1.4,
        pointRadius: 0,
        order: 0,
      },
      {
        label: "firms",
        data: toXY(p.points),
        backgroundColor: "#2d6a25",
        borderColor: "rgba(225,240,220,0.85)",
        borderWidth: 0.8,
        pointRadius: 3.2,
        order: 1,
      },
      {
        label: "firms-small",
        data: toXY(p.small),
        backgroundColor: "#2d6a25",
        borderColor: "rgba(225,240,220,0.85)",
        borderWidth: 0.6,
        pointRadius: 2.1,
        order: 1,
      },
    ],
  },
  options: {
    animation: false,
    responsive: false,
    devicePixelRatio: 1,
    layout: { padding: { top: 16, right: p.padRight, left: 0, bottom: 0 } },
    plugins: {
      legend: { display: false },
      tooltip: { enabled: false },
      frame: { color: "#dcdcdc" },
      r2box: { text: p.r2, side: p.r2Side },
    },
    scales: {
      x: {
        type: "linear",
        min: p.xMin,
        max: p.xMax,
        afterBuildTicks: (s: any) => { s.ticks = p.ticksX.map((v: number) => ({ value: v })); },
        afterFit: (s: any) => { s.height = p.xAxisH; },
        grid: { color: "#e6e6e6", drawTicks: false },
        border: { display: false },
        ticks: { padding: p.xTickPad, font: { family: TICKF, size: 16.5 }, color: "#262626", callback: (v: any) => minusFmt(Number(v)), maxRotation: 0 },
        title: { display: true, text: "Markup Growth", font: { family: SANS, size: 17 }, color: "#262626", padding: { top: 0, bottom: p.xTitlePad } },
      },
      y: {
        type: "linear",
        min: p.yMin,
        max: p.yMax,
        afterBuildTicks: (s: any) => { s.ticks = p.ticksY.map((v: number) => ({ value: v })); },
        afterFit: (s: any) => { s.width = p.yAxisW; },
        grid: { color: "#e6e6e6", drawTicks: false },
        border: { display: false },
        ticks: { padding: p.yTickPad, font: { family: TICKF, size: 16.5 }, color: "#262626", callback: (v: any) => minusFmt(Number(v)) },
        title: { display: true, text: "PPI Growth", font: { family: SANS, size: 17 }, color: "#262626", padding: { top: p.yTitlePad, bottom: 0 } },
      },
    },
  },
  plugins: [framePlugin, r2Plugin],
});

const makeFig2a = () =>
  scatterConfig({
    fit: aFit,
    points: [...aOutliers, ...aHalo, ...aCore, ...aCore2],
    small: aSmall,
    r2: aR2,
    r2Side: "left",
    xMin: -80.3,
    xMax: 107,
    yMin: -20.25,
    yMax: 21.8,
    ticksX: aTicksX,
    ticksY: aTicksY,
    padRight: 13,
    xAxisH: 48,
    yAxisW: 61,
    xTickPad: 1,
    yTickPad: 4,
    xTitlePad: 9.8,
    yTitlePad: 4.8,
  });

const makeFig2b = () =>
  scatterConfig({
    fit: bFit,
    points: [...bOutliers, ...bCore, ...bCore2],
    small: bSmall,
    r2: bR2,
    r2Side: "right",
    xMin: -31.2,
    xMax: 29.3,
    yMin: -4.85,
    yMax: 5.24,
    ticksX: bTicksX,
    ticksY: bTicksY,
    padRight: 12,
    xAxisH: 50,
    yAxisW: 55,
    xTickPad: 0,
    yTickPad: 5,
    xTitlePad: 10.3,
    yTitlePad: 7.8,
  });

export default function App() {
  return (
    <div style={{ position: "absolute", left: 0, top: 0, width: 1079, height: 940, background: "#ffffff", overflow: "hidden" }}>
      <FitText left={271} width={487} baseline={26} size={21}>
        Figure 1. : Rising Markup Estimates, 1955-2021
      </FitText>
      <ChartBox left={270} top={43} width={500} height={332} make={makeFig1} />

      <div
        style={{
          position: "absolute",
          left: 977,
          top: 309,
          width: 140,
          height: 83,
          borderRadius: 42,
          background: "#f3f3f3",
        }}
      />
      <div
        style={{
          position: "absolute",
          left: 977,
          top: 309,
          width: 102,
          height: 83,
          lineHeight: "83px",
          textAlign: "center",
          fontFamily: "Roboto, 'Noto Sans', sans-serif",
          fontSize: 38,
          color: "#6e6e6e",
        }}
      >
        2
      </div>

      <FitText left={238} width={560} baseline={456} size={21}>
        Figure 2. : Annualized Changes in Markups and Prices
      </FitText>
      <FitText left={213} width={138} baseline={510} size={20}>
        (a) 1980-2018
      </FitText>
      <FitText left={637} width={223} baseline={510} size={20}>
        (b) 2018:Q1-2022:Q3
      </FitText>

      <ChartBox left={60} top={521} width={445} height={306} make={makeFig2a} />
      <ChartBox left={530} top={521} width={450} height={316} make={makeFig2b} />

      <FitText left={53} width={920} baseline={847.5} size={15.5}>
        <i>Notes:</i> The figure shows the PPI CAGR (vertical axis) and markup CAGR (horizontal axis) for firms in the matched
      </FitText>
      <FitText left={53} width={920} baseline={868} size={15.5}>
        samples. The line of best fit is estimated with weighted least squares, using CPI-adjusted sales for the period closest
      </FitText>
      <FitText left={53} width={920} baseline={888.5} size={15.5}>
        to 2018 (left panel) or 2018:Q1 (right panel). We exclude 26 firms (left panel) and 53 firms (right panel) with PPI
      </FitText>
      <FitText left={53} width={324} baseline={909} size={15.5}>
        or markup growth outside the range of the axes.
      </FitText>
    </div>
  );
}
